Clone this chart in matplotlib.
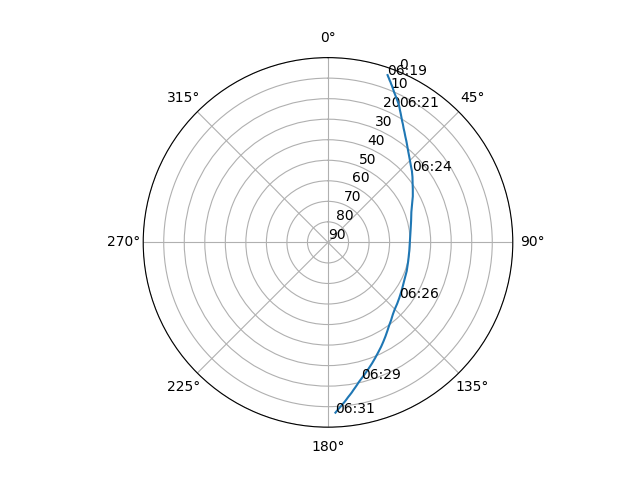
import numpy as np
import pandas as pd
import matplotlib
matplotlib.use('Agg')
import matplotlib.pyplot as plt

# satellite pass, sampled every 10 s starting 06:19:00
start_time = '2024-01-01 06:19:00'
step = '10s'
azimuth = [19.6, 20.0, 20.4, 20.8, 21.3, 21.7, 22.2, 22.7, 23.2, 23.7,
           24.3, 24.9, 25.6, 26.3, 27.0, 27.7, 28.5, 29.4, 30.3, 31.3,
           32.4, 33.5, 34.8, 36.2, 37.7, 39.3, 41.0, 42.8, 44.9, 47.2,
           49.7, 52.3, 55.0, 58.0, 61.5, 65.5, 70.0, 75.5, 82.0, 89.0,
           96.0, 103.0, 110.0, 116.5, 122.5, 127.9, 131.5, 135.0, 138.0, 141.0,
           143.6, 146.0, 148.5, 150.8, 153.0, 155.5, 157.8, 160.0, 162.2, 164.3,
           166.4, 167.5, 168.4, 169.3, 170.2, 171.0, 171.8, 172.6, 173.3, 174.0,
           174.7, 175.3, 175.9, 176.5, 177.0, 177.5]
elevation = [3.5, 4.2, 4.8, 5.5, 6.2, 6.9, 7.6, 8.4, 9.2, 10.0,
             10.8, 11.6, 12.5, 13.4, 14.3, 15.3, 16.6, 17.9, 19.2, 20.6,
             21.9, 23.3, 24.7, 26.2, 27.6, 29.1, 30.6, 32.0, 33.5, 35.0,
             36.4, 38.0, 39.7, 41.3, 43.0, 45.0, 46.8, 48.2, 49.4, 50.1,
             50.2, 49.9, 49.2, 48.5, 47.3, 46.0, 45.0, 44.0, 42.8, 41.2,
             39.8, 38.2, 36.4, 34.7, 33.0, 31.1, 29.2, 27.3, 25.4, 23.5,
             21.5, 20.4, 19.3, 18.2, 17.1, 16.0, 15.0, 14.0, 13.0, 12.0,
             11.1, 10.2, 9.4, 8.6, 7.8, 7.0]

times = pd.date_range(start=start_time, periods=len(azimuth), freq=step)

fig = plt.figure(figsize=(6.4, 4.8), dpi=100)
ax = fig.add_subplot(111, projection='polar')
ax.set_theta_zero_location('N')
ax.set_theta_direction(-1)

theta = np.radians(azimuth)
ax.plot(theta, elevation)

# label every 2.5 minutes with HH:MM
for i in range(0, len(times), 15):
    ax.text(theta[i], elevation[i], times[i].strftime('%H:%M'))

ax.set_yticks(range(0, 91, 10))
ax.set_rlim(90, 0)

plt.savefig('out.png')
